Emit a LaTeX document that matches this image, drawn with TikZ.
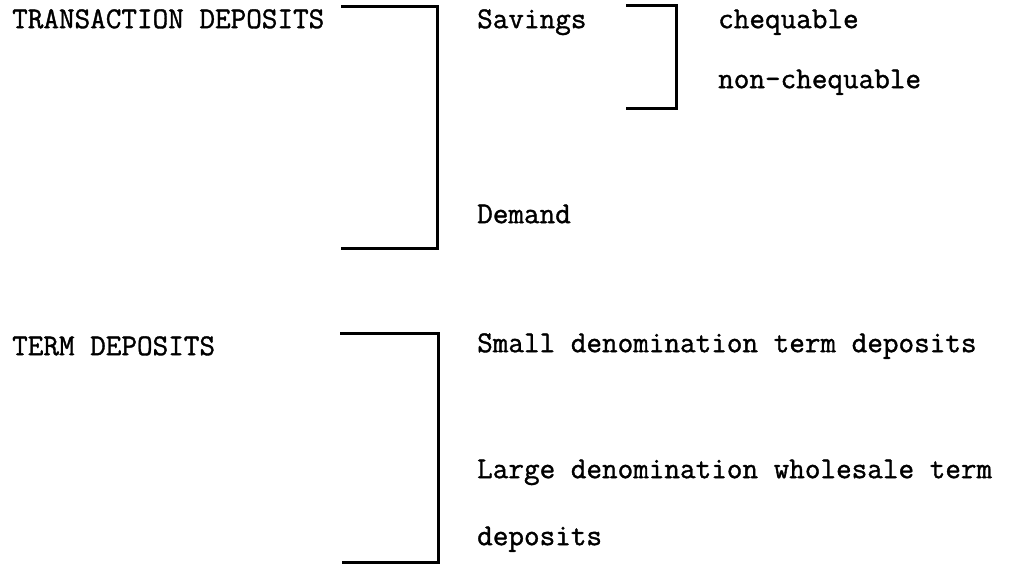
\documentclass[tikz,border=0pt]{standalone}
\usepackage{fontspec}
\newfontfamily\typew[FakeBold=1.2]{Latin Modern Mono}
\begin{document}
\begin{tikzpicture}[x=1pt,y=-1pt,
  lbl/.style={anchor=mid west,inner sep=0pt,font=\typew\fontsize{30.3}{34}\selectfont},
  brk/.style={line width=3pt,line join=miter}]
\useasboundingbox (0,0) rectangle (1011,565);
\node[lbl] (trans) at (12,26) {TRANSACTION DEPOSITS};
\node[lbl] (sav) at (477,26) {Savings};
\node[lbl] (cheq) at (718,26) {chequable};
\node[lbl] (noncheq) at (718,86) {non-chequable};
\node[lbl] (dem) at (477,221) {Demand};
\node[lbl] (term) at (12,353) {TERM DEPOSITS};
\node[lbl] (small) at (477,350) {Small denomination term deposits};
\node[lbl] (large) at (477,476) {Large denomination wholesale term};
\node[lbl] (dep) at (477,543) {deposits};
% brackets
\coordinate (b1a) at (341,6); \coordinate (b1b) at (437,6);
\coordinate (b1c) at (437,248); \coordinate (b1d) at (341,248);
\draw[brk] (b1a) -- (b1b) -- (b1c) -- (b1d);
\coordinate (b2a) at (626,5); \coordinate (b2b) at (676,5);
\coordinate (b2c) at (676,108); \coordinate (b2d) at (626,108);
\draw[brk] (b2a) -- (b2b) -- (b2c) -- (b2d);
\coordinate (b3a) at (340,333); \coordinate (b3b) at (438,333);
\coordinate (b3c) at (438,562); \coordinate (b3d) at (342,562);
\draw[brk] (b3a) -- (b3b) -- (b3c) -- (b3d);
\end{tikzpicture}
\end{document}
